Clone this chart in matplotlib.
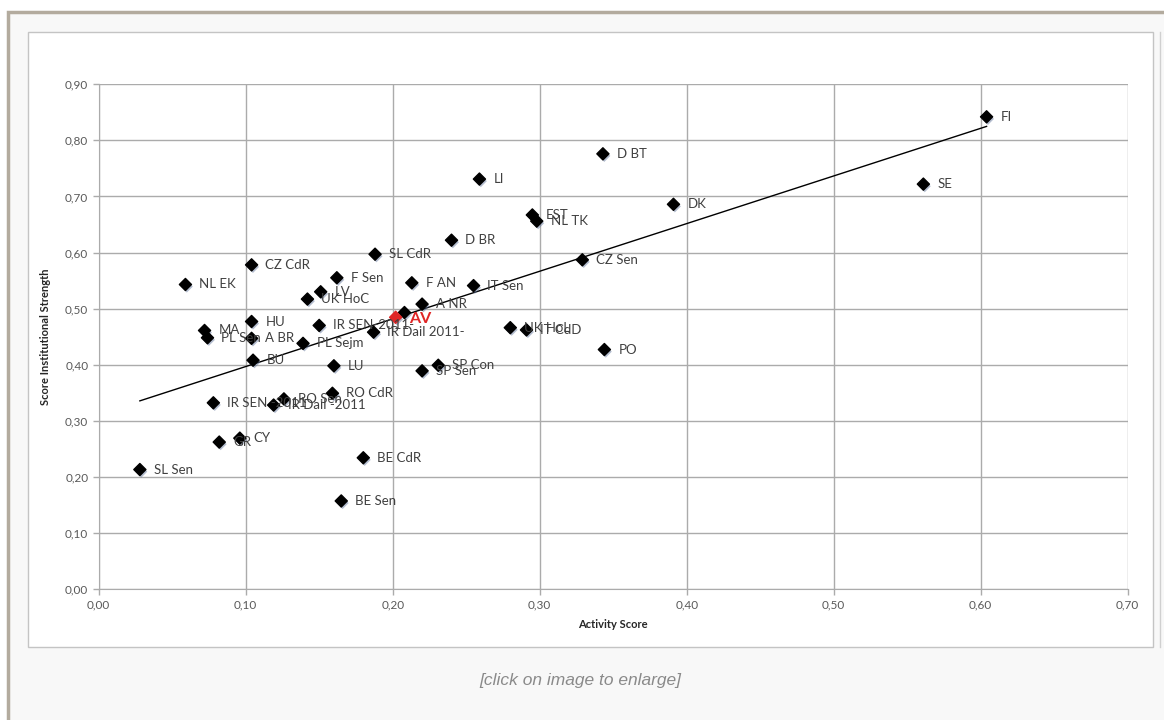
import numpy as np
import matplotlib.pyplot as plt
import matplotlib.patheffects as pe
from matplotlib.patches import Rectangle
from matplotlib.ticker import FuncFormatter

plt.rcParams['font.family'] = ['Lato', 'DejaVu Sans']

# chamber labels, activity score (x) and institutional strength score (y)
labels = ['FI', 'SE', 'DK', 'D BT', 'CZ Sen', 'PO', 'LI', 'EST', 'NL TK', 'D BR',
          'F AN', 'IT Sen', 'A NR', '', 'UK HoL', 'IT CdD', 'SP Con', 'SP Sen',
          'SL CdR', 'F Sen', 'LV', 'UK HoC', 'CZ CdR', 'NL EK', 'HU', 'MA',
          'PL Sen', 'A BR', 'BU', 'IR SEN-2011-', 'PL Sejm', 'IR Dail 2011-', 'LU',
          'RO CdR', 'RO Sen', 'IR Dail -2011', 'IR SEN -2011', 'CY', 'GR', 'SL Sen',
          'BE CdR', 'BE Sen']
activity = [0.604, 0.561, 0.391, 0.343, 0.329, 0.344, 0.259, 0.295, 0.298, 0.240,
            0.213, 0.255, 0.220, 0.208, 0.280, 0.291, 0.231, 0.220,
            0.188, 0.162, 0.151, 0.142, 0.104, 0.059, 0.104, 0.072,
            0.074, 0.104, 0.105, 0.150, 0.139, 0.187, 0.160,
            0.159, 0.126, 0.119, 0.078, 0.096, 0.082, 0.028,
            0.180, 0.165]
strength = [0.842, 0.722, 0.686, 0.776, 0.587, 0.427, 0.731, 0.667, 0.656, 0.622,
            0.546, 0.541, 0.508, 0.493, 0.466, 0.462, 0.399, 0.389,
            0.597, 0.555, 0.530, 0.517, 0.578, 0.543, 0.477, 0.461,
            0.448, 0.447, 0.408, 0.470, 0.438, 0.458, 0.398,
            0.349, 0.339, 0.328, 0.332, 0.269, 0.262, 0.213,
            0.234, 0.157]

# average of all chambers
av_x, av_y = 0.202, 0.4845

fig = plt.figure(figsize=(11.64, 7.2), dpi=100, facecolor='white')

# page frame and chart box (behind the axes)
fig.patches.append(Rectangle((8 / 1164, -0.1), 1.2, 1.1 - 12 / 720, transform=fig.transFigure,
                             facecolor='#f8f8f8', edgecolor='#b3ab9e', linewidth=2.5, zorder=-2))
fig.patches.append(Rectangle((28 / 1164, 1 - 647 / 720), 1125 / 1164, 615 / 720, transform=fig.transFigure,
                             facecolor='white', edgecolor='#c4c4c4', linewidth=1, zorder=-1))
fig.add_artist(plt.Line2D([1160 / 1164, 1160 / 1164], [1 - 647 / 720, 1 - 32 / 720],
                          transform=fig.transFigure, color='#d0d0d0', linewidth=1, zorder=-1))

ax = fig.add_axes([98.7 / 1164, 1 - 589 / 720, 1029 / 1164, 504.7 / 720])
ax.set_zorder(2)
ax.patch.set_alpha(0)
ax.set_xlim(0, 0.7)
ax.set_ylim(0, 0.9)
ax.set_xticks(np.arange(0, 0.71, 0.1))
ax.set_yticks(np.arange(0, 0.91, 0.1))
fmt = FuncFormatter(lambda v, p: f'{v:.2f}'.replace('.', ','))
ax.xaxis.set_major_formatter(fmt)
ax.yaxis.set_major_formatter(fmt)
ax.grid(True, color='#ababab', linewidth=1)
ax.set_axisbelow(True)
for s in ['top', 'right']:
    ax.spines[s].set_visible(False)
for s in ['left', 'bottom']:
    ax.spines[s].set_color('#ababab')
ax.tick_params(colors='#ababab', labelcolor='#595959', labelsize=8.5, length=4, width=1)
ax.set_xlabel('Activity Score', fontsize=8, fontweight='bold', color='#262626', labelpad=6)
ax.set_ylabel('Score Institutional Strength', fontsize=8, fontweight='bold', color='#262626', labelpad=10)

# linear trend line over the data range
slope, icpt = np.polyfit(activity, strength, 1)
xs = np.array([min(activity), max(activity)])
ax.plot(xs, slope * xs + icpt, color='black', linewidth=1, zorder=2)

shadow = [pe.SimplePatchShadow(offset=(1, -1.5), shadow_rgbFace='#5a6e96', alpha=0.45), pe.Normal()]
ax.scatter(activity, strength, marker='D', s=38, color='black', zorder=3, path_effects=shadow)
ax.scatter([av_x], [av_y], marker='D', s=38, color='#e02626', zorder=3, path_effects=shadow)

for lab, x, y in zip(labels, activity, strength):
    if lab:
        ax.annotate(lab, (x, y), xytext=(10, 0), textcoords='offset points',
                    va='center', ha='left', fontsize=9.5, color='#404040', zorder=4)
ax.annotate('AV', (av_x, av_y), xytext=(10, -1), textcoords='offset points',
            va='center', ha='left', fontsize=11.5, fontweight='bold', color='#e02626', zorder=4)

fig.text(580 / 1164, 1 - 680 / 720, '[click on image to enlarge]', ha='center', va='center',
         fontsize=12.5, style='italic', color='#8a8a8a', family='Liberation Sans')

fig.savefig('out.png', dpi=100, facecolor=fig.get_facecolor())
